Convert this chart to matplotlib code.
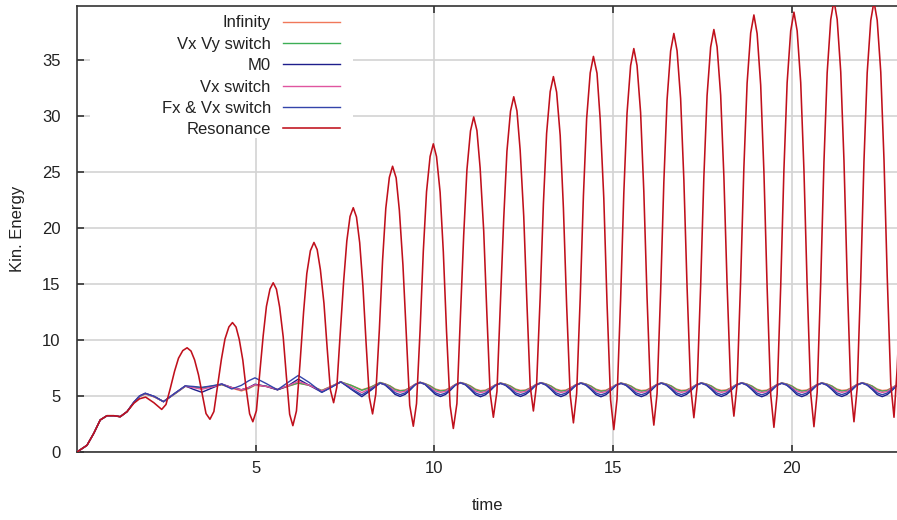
import matplotlib
matplotlib.use("Agg")
import matplotlib.pyplot as plt
from matplotlib.patches import Rectangle

# ---- data (time, kinetic energy) ----
t_res = [0.00, 0.28, 0.47, 0.65, 0.84, 1.03, 1.21, 1.40, 1.59, 1.75, 1.92, 2.15, 2.37,
         2.49, 2.61, 2.73, 2.84, 2.96, 3.08, 3.19, 3.29, 3.40, 3.51, 3.61, 3.72,
         3.83, 3.93, 4.04, 4.14, 4.25, 4.35, 4.45, 4.54, 4.64, 4.73, 4.83, 4.92,
         5.02, 5.11, 5.21, 5.30, 5.40, 5.49, 5.58, 5.67, 5.77, 5.86, 5.95, 6.04,
         6.14, 6.24, 6.34, 6.43, 6.53, 6.63, 6.72, 6.81, 6.91, 7.00, 7.09, 7.18,
         7.27, 7.36, 7.46, 7.55, 7.64, 7.73, 7.82, 7.91, 8.00, 8.09, 8.18, 8.27,
         8.36, 8.46, 8.55, 8.64, 8.74, 8.83, 8.93, 9.02, 9.12, 9.22, 9.31, 9.41,
         9.50, 9.60, 9.69, 9.78, 9.88, 9.97, 10.06, 10.16, 10.25, 10.34, 10.44, 10.53,
         10.63, 10.72, 10.82, 10.91, 11.01, 11.10, 11.19, 11.28, 11.38, 11.47, 11.56, 11.65,
         11.75, 11.84, 11.94, 12.03, 12.13, 12.22, 12.31, 12.40, 12.50, 12.59, 12.68, 12.77,
         12.86, 12.96, 13.05, 13.14, 13.24, 13.33, 13.42, 13.52, 13.61, 13.70, 13.80, 13.89,
         13.98, 14.08, 14.17, 14.26, 14.36, 14.45, 14.55, 14.64, 14.74, 14.83, 14.93, 15.02,
         15.11, 15.21, 15.30, 15.39, 15.49, 15.58, 15.67, 15.77, 15.86, 15.95, 16.05, 16.14,
         16.23, 16.33, 16.42, 16.51, 16.61, 16.70, 16.79, 16.89, 16.98, 17.07, 17.17, 17.26,
         17.35, 17.45, 17.54, 17.63, 17.73, 17.82, 17.91, 18.01, 18.10, 18.19, 18.29, 18.38,
         18.47, 18.57, 18.66, 18.75, 18.85, 18.94, 19.03, 19.13, 19.22, 19.31, 19.41, 19.50,
         19.59, 19.69, 19.78, 19.87, 19.97, 20.06, 20.15, 20.25, 20.34, 20.43, 20.53, 20.62,
         20.71, 20.81, 20.90, 20.99, 21.09, 21.18, 21.27, 21.37, 21.46, 21.55, 21.65, 21.74,
         21.83, 21.93, 22.02, 22.11, 22.21, 22.30, 22.39, 22.49, 22.58, 22.67, 22.77, 22.86,
         22.95, 23.05]
resonance = [0.00, 0.60, 1.67, 2.86, 3.24, 3.24, 3.15, 3.60, 4.35, 4.75, 4.90, 4.40, 3.80,
             4.24, 5.67, 7.21, 8.37, 9.05, 9.30, 9.01, 8.22, 6.88, 5.09, 3.43, 2.92,
             3.61, 5.85, 8.27, 10.08, 11.16, 11.55, 11.15, 10.05, 8.19, 5.71, 3.41, 2.70,
             3.69, 6.92, 10.39, 12.99, 14.54, 15.10, 14.53, 12.93, 10.26, 6.69, 3.37, 2.35,
             3.66, 7.91, 12.49, 15.92, 17.96, 18.70, 18.06, 16.27, 13.27, 9.26, 5.54, 4.40,
             5.79, 10.32, 15.19, 18.84, 21.02, 21.80, 20.97, 18.67, 14.81, 9.66, 4.87, 3.40,
             5.17, 10.91, 17.10, 21.74, 24.51, 25.50, 24.46, 21.56, 16.68, 10.19, 4.16, 2.30,
             4.32, 10.87, 17.92, 23.22, 26.37, 27.50, 26.36, 23.18, 17.85, 10.74, 4.13, 2.10,
             4.32, 11.55, 19.34, 25.17, 28.65, 29.90, 28.69, 25.34, 19.72, 12.21, 5.24, 3.10,
             5.39, 12.82, 20.83, 26.84, 30.41, 31.70, 30.44, 26.93, 21.04, 13.19, 5.90, 3.66,
             6.05, 13.81, 22.16, 28.43, 32.16, 33.50, 32.11, 28.25, 21.76, 13.11, 5.07, 2.60,
             5.22, 13.72, 22.87, 29.74, 33.83, 35.30, 33.80, 29.64, 22.65, 13.32, 4.66, 2.00,
             4.72, 13.56, 23.08, 30.22, 34.47, 36.00, 34.49, 30.29, 23.23, 13.82, 5.09, 2.40,
             5.20, 14.28, 24.07, 31.41, 35.78, 37.35, 35.81, 31.52, 24.32, 14.72, 5.80, 3.06,
             5.83, 14.84, 24.54, 31.81, 36.14, 37.70, 36.15, 31.84, 24.59, 14.93, 5.96, 3.20,
             6.06, 15.37, 25.40, 32.91, 37.39, 39.00, 37.34, 32.74, 25.02, 14.71, 5.14, 2.20,
             5.16, 14.80, 25.17, 32.95, 37.58, 39.25, 37.59, 32.96, 25.19, 14.84, 5.22, 2.26,
             5.30, 15.19, 25.84, 33.83, 38.59, 40.30, 38.61, 33.91, 26.01, 15.48, 5.71, 2.70,
             5.70, 15.45, 25.95, 33.83, 38.51, 40.20, 38.53, 33.89, 26.10, 15.71, 6.07, 3.10,
             7.50, 15.00]

t_small = [0.00, 0.28, 0.47, 0.65, 0.84, 1.03, 1.21, 1.40, 1.59,
           1.75, 1.91, 2.17, 2.42, 2.72, 3.03, 3.25, 3.49, 3.77, 4.05, 4.33, 4.60, 4.80,
           4.98, 5.30, 5.61, 5.90, 6.19, 6.50, 6.85, 7.10, 7.38, 7.67, 7.97, 8.22, 8.48,
           8.62, 8.76, 8.90, 9.04, 9.18, 9.32, 9.46, 9.60,
           9.74, 9.88, 10.03, 10.17, 10.31, 10.45, 10.59, 10.73,
           10.87, 11.01, 11.15, 11.29, 11.43, 11.57, 11.71, 11.85,
           11.99, 12.13, 12.27, 12.41, 12.55, 12.70, 12.84, 12.98,
           13.12, 13.26, 13.40, 13.54, 13.68, 13.82, 13.96, 14.10,
           14.24, 14.38, 14.52, 14.66, 14.80, 14.94, 15.08, 15.22,
           15.36, 15.50, 15.64, 15.79, 15.93, 16.07, 16.21, 16.35,
           16.49, 16.63, 16.77, 16.91, 17.05, 17.19, 17.33, 17.47,
           17.61, 17.75, 17.89, 18.03, 18.17, 18.31, 18.45, 18.60,
           18.74, 18.88, 19.02, 19.16, 19.30, 19.44, 19.58, 19.72,
           19.86, 20.00, 20.14, 20.28, 20.42, 20.56, 20.70, 20.84,
           20.98, 21.12, 21.26, 21.40, 21.54, 21.68, 21.82, 21.97,
           22.11, 22.25, 22.39, 22.53, 22.67, 22.81, 22.95, 23.09]
infinity = [0.00, 0.60, 1.67, 2.86, 3.24, 3.24, 3.15, 3.60, 4.40,
            4.95, 5.18, 4.90, 4.50, 5.15, 5.85, 5.80, 5.70, 5.85, 6.00, 5.70, 5.45, 5.65,
            5.95, 5.85, 5.55, 5.85, 6.15, 5.95, 5.50, 5.85, 6.25, 5.95, 5.55, 5.80, 6.20,
            6.08, 5.90, 5.62, 5.49, 5.53, 5.76, 6.04, 6.22,
            6.10, 5.91, 5.62, 5.50, 5.54, 5.75, 6.03, 6.20,
            6.09, 5.90, 5.61, 5.48, 5.52, 5.74, 6.00, 6.15,
            6.06, 5.89, 5.62, 5.50, 5.53, 5.75, 6.02, 6.19,
            6.08, 5.90, 5.62, 5.49, 5.53, 5.75, 6.01, 6.17,
            6.07, 5.89, 5.61, 5.48, 5.52, 5.74, 6.00, 6.15,
            6.06, 5.89, 5.62, 5.49, 5.53, 5.75, 6.01, 6.17,
            6.07, 5.90, 5.62, 5.50, 5.53, 5.75, 6.01, 6.17,
            6.07, 5.90, 5.62, 5.50, 5.54, 5.76, 6.02, 6.18,
            6.07, 5.89, 5.61, 5.48, 5.52, 5.74, 6.00, 6.16,
            6.07, 5.90, 5.62, 5.49, 5.53, 5.75, 6.01, 6.17,
            6.07, 5.90, 5.62, 5.50, 5.54, 5.76, 6.02, 6.18,
            6.07, 5.90, 5.62, 5.49, 5.53, 5.75, 6.01, 6.17]
vxvy_switch = [0.00, 0.60, 1.67, 2.86, 3.24, 3.24, 3.15, 3.60, 4.40,
               4.95, 5.20, 4.92, 4.50, 5.15, 5.87, 5.80, 5.72, 5.88, 6.02, 5.75, 5.55, 5.70,
               6.00, 5.88, 5.58, 5.88, 6.15, 5.95, 5.48, 5.82, 6.25, 5.95, 5.50, 5.78, 6.20,
               6.07, 5.88, 5.57, 5.45, 5.50, 5.73, 6.03, 6.22,
               6.09, 5.89, 5.57, 5.44, 5.49, 5.72, 6.02, 6.20,
               6.08, 5.87, 5.56, 5.42, 5.47, 5.71, 5.99, 6.15,
               6.05, 5.87, 5.57, 5.44, 5.49, 5.72, 6.01, 6.19,
               6.07, 5.88, 5.57, 5.43, 5.48, 5.72, 6.00, 6.17,
               6.06, 5.87, 5.56, 5.42, 5.47, 5.71, 5.99, 6.15,
               6.05, 5.87, 5.57, 5.43, 5.48, 5.72, 6.00, 6.17,
               6.06, 5.88, 5.57, 5.44, 5.49, 5.72, 6.00, 6.17,
               6.06, 5.88, 5.57, 5.44, 5.49, 5.73, 6.01, 6.18,
               6.06, 5.87, 5.56, 5.42, 5.47, 5.71, 5.99, 6.16,
               6.06, 5.88, 5.57, 5.43, 5.48, 5.72, 6.00, 6.17,
               6.06, 5.88, 5.57, 5.44, 5.49, 5.73, 6.01, 6.18,
               6.06, 5.88, 5.57, 5.43, 5.48, 5.72, 6.00, 6.17]
m0 = [0.00, 0.60, 1.67, 2.86, 3.24, 3.24, 3.15, 3.60, 4.45,
      5.00, 5.24, 4.95, 4.49, 5.20, 5.90, 5.60, 5.33, 5.70, 6.07, 5.75, 5.55, 5.75,
      6.05, 5.85, 5.55, 5.90, 6.50, 5.95, 5.33, 5.75, 6.28, 5.60, 4.94, 5.50, 6.15,
      5.98, 5.59, 5.14, 4.96, 5.14, 5.53, 5.99, 6.20,
      6.02, 5.60, 5.14, 4.95, 5.13, 5.52, 5.97, 6.17,
      5.99, 5.57, 5.12, 4.93, 5.11, 5.50, 5.94, 6.12,
      5.95, 5.58, 5.13, 4.95, 5.13, 5.51, 5.96, 6.16,
      5.97, 5.58, 5.13, 4.94, 5.12, 5.51, 5.95, 6.14,
      5.96, 5.57, 5.12, 4.93, 5.11, 5.50, 5.94, 6.12,
      5.95, 5.57, 5.13, 4.94, 5.12, 5.51, 5.95, 6.14,
      5.96, 5.58, 5.13, 4.95, 5.13, 5.51, 5.95, 6.14,
      5.96, 5.58, 5.13, 4.95, 5.13, 5.52, 5.96, 6.15,
      5.96, 5.57, 5.12, 4.93, 5.11, 5.50, 5.94, 6.13,
      5.96, 5.58, 5.13, 4.94, 5.12, 5.51, 5.95, 6.14,
      5.96, 5.58, 5.13, 4.95, 5.13, 5.52, 5.96, 6.15,
      5.96, 5.58, 5.13, 4.94, 5.12, 5.51, 5.95, 6.14]
vx_switch = [0.00, 0.60, 1.67, 2.86, 3.24, 3.24, 3.15, 3.60, 4.42,
             4.98, 5.22, 4.92, 4.49, 5.18, 5.88, 5.75, 5.60, 5.80, 6.05, 5.75, 5.55, 5.75,
             6.00, 5.85, 5.60, 5.90, 6.30, 5.95, 5.45, 5.80, 6.25, 5.80, 5.30, 5.70, 6.15,
             6.05, 5.77, 5.46, 5.33, 5.42, 5.73, 6.03, 6.22,
             6.07, 5.78, 5.45, 5.32, 5.41, 5.72, 6.01, 6.19,
             6.05, 5.76, 5.44, 5.30, 5.39, 5.71, 5.98, 6.14,
             6.02, 5.76, 5.45, 5.32, 5.41, 5.72, 6.00, 6.18,
             6.04, 5.76, 5.45, 5.31, 5.40, 5.72, 5.99, 6.16,
             6.03, 5.75, 5.44, 5.30, 5.39, 5.71, 5.98, 6.14,
             6.02, 5.75, 5.45, 5.31, 5.40, 5.72, 5.99, 6.16,
             6.03, 5.76, 5.45, 5.32, 5.41, 5.72, 5.99, 6.16,
             6.03, 5.76, 5.45, 5.32, 5.41, 5.73, 6.00, 6.17,
             6.03, 5.75, 5.44, 5.30, 5.39, 5.71, 5.98, 6.15,
             6.03, 5.76, 5.45, 5.31, 5.40, 5.72, 5.99, 6.16,
             6.03, 5.76, 5.45, 5.32, 5.41, 5.73, 6.00, 6.17,
             6.03, 5.76, 5.45, 5.31, 5.40, 5.72, 5.99, 6.16]
fx_vx_switch = [0.00, 0.60, 1.67, 2.86, 3.24, 3.24, 3.15, 3.60, 4.45,
                5.00, 5.24, 4.95, 4.49, 5.20, 5.90, 5.85, 5.77, 5.90, 6.07, 5.62, 5.95, 6.35,
                6.62, 6.10, 5.55, 6.20, 6.83, 6.20, 5.33, 5.75, 6.25, 5.65, 5.10, 5.60, 6.15,
                6.02, 5.67, 5.29, 5.12, 5.27, 5.61, 6.01, 6.21,
                6.05, 5.68, 5.28, 5.11, 5.26, 5.60, 5.99, 6.18,
                6.02, 5.66, 5.27, 5.10, 5.25, 5.59, 5.96, 6.13,
                5.99, 5.66, 5.28, 5.12, 5.27, 5.60, 5.98, 6.17,
                6.01, 5.66, 5.28, 5.11, 5.26, 5.60, 5.97, 6.15,
                6.00, 5.65, 5.27, 5.10, 5.25, 5.59, 5.96, 6.13,
                5.99, 5.65, 5.28, 5.11, 5.26, 5.60, 5.97, 6.15,
                6.00, 5.66, 5.28, 5.12, 5.27, 5.60, 5.97, 6.15,
                6.00, 5.66, 5.28, 5.12, 5.27, 5.61, 5.98, 6.16,
                6.00, 5.65, 5.27, 5.10, 5.25, 5.59, 5.96, 6.14,
                6.00, 5.66, 5.28, 5.11, 5.26, 5.60, 5.97, 6.15,
                6.00, 5.66, 5.28, 5.12, 5.27, 5.61, 5.98, 6.16,
                6.00, 5.66, 5.28, 5.11, 5.26, 5.60, 5.97, 6.15]

series_labels = ["Infinity", "Vx Vy switch", "M0", "Vx switch", "Fx & Vx switch", "Resonance"]
x_ticks = [5, 10, 15, 20]
y_ticks = [0, 5, 10, 15, 20, 25, 30, 35]

# ---- style ----
INK, SPINE, GRID = "#222222", "#333333", "#d3d3d3"
COLORS = ["#f0785a", "#3cae55", "#1e1e8c", "#e0559f", "#3344aa", "#c0101c"]
W, H = 897, 520
L, B, T = 77, 452, 6   # axes edges in pixels

plt.rcParams.update({"font.family": ["Liberation Sans", "DejaVu Sans"], "font.size": 12,
                     "text.color": INK, "axes.labelcolor": INK})


def main():
    fig = plt.figure(figsize=(W / 100, H / 100), dpi=100)
    aw = W + 2 - L
    ax = fig.add_axes([L / W, 1 - B / H, aw / W, (B - T) / H])

    series = [(t_small, infinity), (t_small, vxvy_switch), (t_small, m0),
              (t_small, vx_switch), (t_small, fx_vx_switch), (t_res, resonance)]
    handles = []
    for (tt, vv), lab, col in zip(series, series_labels, COLORS):
        lw = 1.15 if lab == "Resonance" else 1.0
        h, = ax.plot(tt, vv, color=col, lw=lw, label=lab, zorder=3, solid_joinstyle="round")
        handles.append(h)

    ax.set_xlim(0, 23.0)
    ax.set_ylim(0, 39.8)
    ax.set_xticks(x_ticks)
    ax.set_yticks(y_ticks)
    ax.grid(True, color=GRID, lw=1.2)
    ax.tick_params(direction="in", length=5, width=1.2, color=SPINE, labelsize=12,
                   labelcolor=INK, top=True, right=False)
    ax.tick_params(axis="y", pad=12)
    ax.tick_params(axis="x", pad=6.5)
    for side in ("left", "bottom", "top"):
        ax.spines[side].set_color(SPINE)
        ax.spines[side].set_linewidth(1.2)
    ax.spines["right"].set_visible(False)

    ax.set_xlabel("time", fontsize=12)
    ax.set_ylabel("Kin. Energy", fontsize=12)
    ax.xaxis.set_label_coords(0.5, (B - 498) / (B - T))
    ax.yaxis.set_label_coords((25 - L) / aw, 0.5)

    # opaque key box (hides the grid behind the legend, gnuplot style)
    ax.add_patch(Rectangle(((90 - L) / aw, (B - 138) / (B - T)), (353 - 90) / aw, 1.0,
                           transform=ax.transAxes, fc="white", ec="none", zorder=1.6))
    ax.legend(handles=handles, loc="upper right", markerfirst=False, frameon=False,
              bbox_to_anchor=((340 - L) / aw, 1 - (15.5 - T) / (B - T)),
              borderpad=0, borderaxespad=0, handlelength=3.4, handletextpad=0.75,
              labelspacing=0.38, fontsize=12)

    fig.savefig("out.png", dpi=100, facecolor="white")
    plt.close(fig)


if __name__ == "__main__":
    main()
